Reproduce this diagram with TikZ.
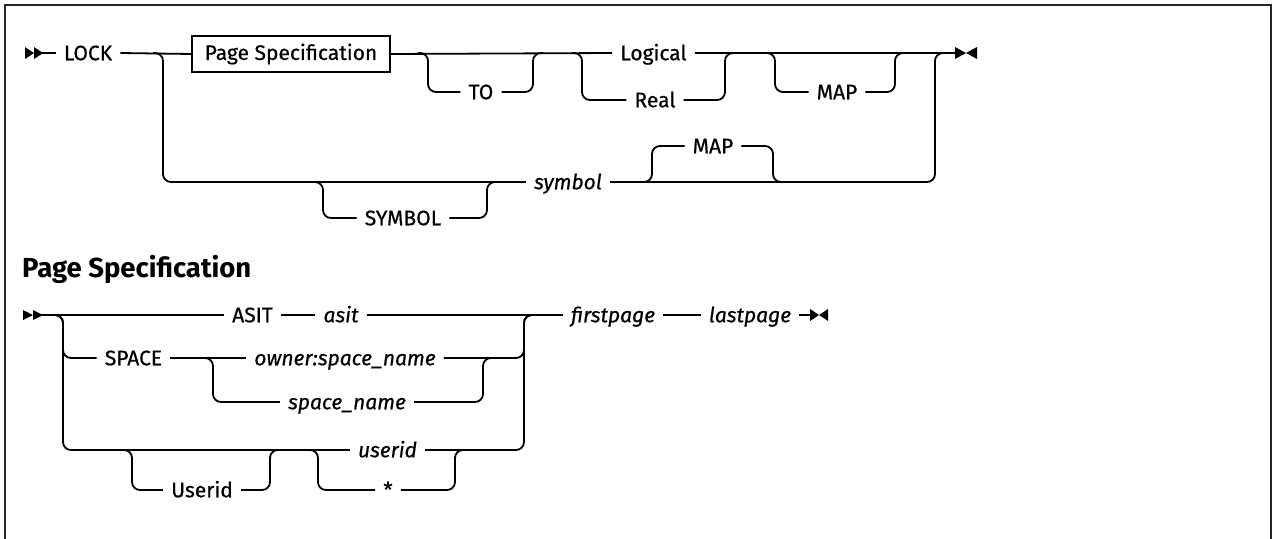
\documentclass[tikz,border=0pt]{standalone}
\usepackage{fontspec}
\setmainfont{Fira Sans}[UprightFeatures={FakeBold=0.6}, ItalicFeatures={FakeBold=0.6}]
\begin{document}
\begin{tikzpicture}[x=1pt,y=-1pt,
  rr/.style={draw, line width=1.8pt, rounded corners=8pt},
  kw/.style={inner xsep=8pt, inner ysep=0pt, text height=14.5pt, text depth=0pt, font=\fontsize{21}{25}\selectfont},
  vr/.style={kw, font=\fontsize{21}{25}\selectfont\itshape},
  pbox/.style={draw, line width=1.4pt, minimum width=198pt, minimum height=36pt, inner sep=0pt, font=\fontsize{21}{25}\selectfont},
  tipfill/.style={fill=black, draw=none},
  frame/.style={draw=black!85, line width=2pt}]
\useasboundingbox (0,0) rectangle (1274,538);
\draw[frame] (5,540) -- (5,5) -- (1271,5) -- (1271,540);

% ---------- top diagram ----------
\fill[tipfill] (25,47) -- (34,53) -- (25,59) -- cycle;
\fill[tipfill] (34,47) -- (43,53) -- (34,59) -- cycle;
\coordinate (m0) at (42,53);
\node[kw] (LOCK) at (88,53) {LOCK};
\node[pbox] (PS) at (291,54) {Page Specification};
\node[kw] (TO) at (481,92) {TO};
\node[kw] (Logical) at (653.5,53) {Logical};
\node[kw] (Real) at (655,100) {Real};
\node[kw] (MAPa) at (837,92) {MAP};
\node[vr] (symbol) at (568,182) {symbol};
\node[kw] (SYMBOL) at (403,218) {SYMBOL};
\node[kw] (MAPb) at (713,146) {MAP};
\coordinate (a1) at (153,53);
\coordinate (t1) at (418,53);
\coordinate (t2) at (533,53);
\coordinate (c1) at (572,53);
\coordinate (c2) at (725,53);
\coordinate (p1) at (765,53);
\coordinate (p2) at (895,53);
\coordinate (r2) at (935,53);
\coordinate (e1) at (956,53);
\coordinate (s1) at (313,182);
\coordinate (s2) at (487,182);
\coordinate (q1) at (642,182);
\coordinate (q2) at (773,182);

\draw[rr] (m0) -- (LOCK.west);
\draw[rr] (LOCK.east) -- (PS.west);
\draw[rr] (PS.east) -- (Logical.west);
\draw[rr] (Logical.east) -- (e1);
\draw[rr] (t1) -- ++(10,0) |- (TO.west);
\draw[rr] (TO.east) -| (t2) -- ++(10,0);
\draw[rr] (c1) -- ++(10,0) |- (Real.west);
\draw[rr] (Real.east) -| (c2) -- ++(10,0);
\draw[rr] (p1) -- ++(10,0) |- (MAPa.west);
\draw[rr] (MAPa.east) -| (p2) -- ++(10,0);
\draw[rr] (a1) -- ++(10,0) |- (symbol.west);
\draw[rr] (symbol.east) -| (r2) -- ++(10,0);
\draw[rr] (s1) -- ++(10,0) |- (SYMBOL.west);
\draw[rr] (SYMBOL.east) -| (s2) -- ++(10,0);
\draw[rr] (q1) -- ++(10,0) |- (MAPb.west);
\draw[rr] (MAPb.east) -| (q2) -- ++(10,0);
\fill[tipfill] (955,47) -- (966,53) -- (955,59) -- cycle;
\fill[tipfill] (977,47) -- (966,53) -- (977,59) -- cycle;

% ---------- heading ----------
\node[anchor=base west, inner sep=0pt, font=\fontsize{27.5}{31}\selectfont\bfseries] (head) at (22,277) {Page Specification};

% ---------- second diagram ----------
\fill[tipfill] (23,310) -- (33,315) -- (23,320) -- cycle;
\fill[tipfill] (33,310) -- (43,315) -- (33,320) -- cycle;
\coordinate (m1) at (42,315);
\coordinate (L2) at (53,315);
\coordinate (R2) at (524,315);
\coordinate (k1) at (203,358);
\coordinate (k2) at (483,358);
\coordinate (u1) at (122,450);
\coordinate (u2) at (270,450);
\coordinate (v1) at (308,450);
\coordinate (v2) at (455,450);
\coordinate (e2) at (810,315);
\node[kw] (ASIT) at (252.5,315) {ASIT};
\node[vr] (asit) at (341,315) {asit};
\node[vr] (first) at (613,315) {firstpage};
\node[vr] (last) at (750,315) {lastpage};
\node[kw] (SPACE) at (133.5,358) {SPACE};
\node[vr] (owner) at (345,358) {owner:space\_name};
\node[vr] (sname) at (347,402) {space\_name};
\node[kw] (Userid) at (202,490) {Userid};
\node[vr] (userid) at (387.5,450) {userid};
\node[kw] (star) at (388,490) {*};

\draw[rr] (m1) -- (ASIT.west);
\draw[rr] (ASIT.east) -- (asit.west);
\draw[rr] (asit.east) -- (first.west);
\draw[rr] (first.east) -- (last.west);
\draw[rr] (last.east) -- (e2);
\draw[rr] (L2) -- ++(10,0) |- (SPACE.west);
\draw[rr] (SPACE.east) -- (owner.west);
\draw[rr] (owner.east) -| (R2) -- ++(10,0);
\draw[rr] (k1) -- ++(10,0) |- (sname.west);
\draw[rr] (sname.east) -| (k2) -- ++(10,0);
\draw[rr] (L2) -- ++(10,0) |- (userid.west);
\draw[rr] (userid.east) -| (R2) -- ++(10,0);
\draw[rr] (u1) -- ++(10,0) |- (Userid.west);
\draw[rr] (Userid.east) -| (u2) -- ++(10,0);
\draw[rr] (v1) -- ++(10,0) |- (star.west);
\draw[rr] (star.east) -| (v2) -- ++(10,0);
\fill[tipfill] (810,309) -- (819,315) -- (810,321) -- cycle;
\fill[tipfill] (828,309) -- (819,315) -- (828,321) -- cycle;
\end{tikzpicture}
\end{document}
